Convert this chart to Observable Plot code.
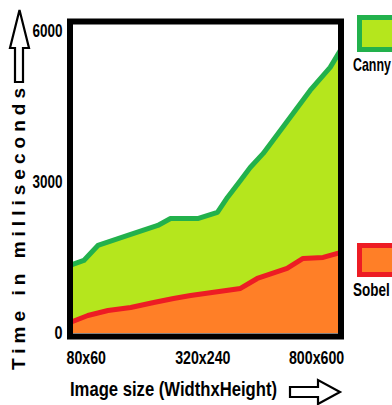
<!DOCTYPE html>
<html>
<head>
<meta charset="utf-8">
<script src="https://cdn.jsdelivr.net/npm/d3@7"></script>
<script src="https://cdn.jsdelivr.net/npm/@observablehq/plot@0.6"></script>
<style>
  html, body { margin: 0; padding: 0; background: #fff; }
  #chart svg { display: block; }
</style>
</head>
<body>
<div id="chart"></div>
<script>
// Series names and colours
const seriesNames = ["Canny", "Sobel"];
const lineColors = ["#22b14c", "#ed1c24"];
const fillColors = ["#b5e61d", "#ff7f27"];

// x position along the image-size axis (0..100)
const cannyX = [0, 5.1, 10.3, 21.3, 32.4, 37.1, 47.4, 54.4, 58.1, 62.9, 66.5, 71.3, 79, 88.6, 96, 100];
const cannyY = [1352, 1451, 1750, 1948, 2147, 2286, 2286, 2406, 2704, 3042, 3300, 3579, 4135, 4831, 5288, 5646];

const sobelX = [0, 6.6, 14, 22.4, 30.9, 38.2, 44.5, 62.9, 69.1, 80.1, 86, 93.4, 100];
const sobelY = [219, 358, 457, 517, 616, 696, 755, 895, 1093, 1292, 1491, 1511, 1610];

// axis ticks
const xTickPos = [6, 49, 91];
const xTickLabels = ["80x60", "320x240", "800x600"];
const yTicks = [0, 3000, 6000];

const yLabel = "Time in milliseconds";
const xLabel = "Image size (WidthxHeight)";

const canny = cannyX.map((x, i) => ({x, y: cannyY[i]}));
const sobel = sobelX.map((x, i) => ({x, y: sobelY[i]}));
const tickLabelMap = new Map(xTickPos.map((p, i) => [p, xTickLabels[i]]));

const font = "'Liberation Sans', Arial, sans-serif";

const chart = Plot.plot({
  width: 392,
  height: 405,
  marginLeft: 69.5,
  marginRight: 51.5,
  marginTop: 21,
  marginBottom: 69,
  style: {background: "#fff", color: "#000", overflow: "visible"},
  x: {domain: [0, 100], axis: null},
  y: {domain: [-60, 6200], axis: null},
  marks: [
    Plot.areaY(canny, {x: "x", y: "y", fill: fillColors[0]}),
    Plot.areaY(sobel, {x: "x", y: "y", fill: fillColors[1]}),
    Plot.line(canny, {x: "x", y: "y", stroke: lineColors[0], strokeWidth: 5}),
    Plot.line(sobel, {x: "x", y: "y", stroke: lineColors[1], strokeWidth: 5}),
    Plot.frame({stroke: "#000", strokeWidth: 6}),
    Plot.axisY({ticks: yTicks, tickSize: 0, tickPadding: 7.5, label: null,
      tickFormat: d => String(d),
      fontFamily: font, fontWeight: "bold", fontSize: 18, fill: "#000"}),
    Plot.axisX({ticks: xTickPos, tickSize: 0, tickPadding: 14, label: null,
      tickFormat: d => tickLabelMap.get(d),
      fontFamily: font, fontWeight: "bold", fontSize: 19, fill: "#000"})
  ]
});

document.getElementById("chart").appendChild(chart);

const svg = d3.select(chart);

// condense tick labels (the original uses a narrow bold face)
svg.selectAll("text").each(function() {
  const t = this.textContent;
  const w = {"6000": 30, "3000": 30, "0": 8}[t] ?? (t.includes("x") ? t.length * 7.9 : null);
  if (w) d3.select(this).attr("textLength", w).attr("lengthAdjust", "spacingAndGlyphs");
});

// y-axis label
svg.append("text")
  .attr("transform", "translate(25,229) rotate(-90)")
  .attr("text-anchor", "middle")
  .attr("font-family", font)
  .attr("font-weight", "bold")
  .attr("font-size", 19)
  .attr("textLength", 282)
  .attr("lengthAdjust", "spacing")
  .attr("fill", "#000")
  .text(yLabel);

// x-axis label
svg.append("text")
  .attr("x", 70)
  .attr("y", 396)
  .attr("text-anchor", "start")
  .attr("font-family", font)
  .attr("font-weight", "bold")
  .attr("font-size", 21)
  .attr("textLength", 207)
  .attr("lengthAdjust", "spacingAndGlyphs")
  .attr("fill", "#000")
  .text(xLabel);

// arrows
svg.append("path")
  .attr("d", "M15,82 L15,48 L10,48 L19.5,10 L29,48 L23,48 L23,82 Z")
  .attr("fill", "#fff").attr("stroke", "#000").attr("stroke-width", 2.2);
svg.append("path")
  .attr("d", "M290,387 L318,387 L318,380 L340,392 L318,404 L318,397 L290,397 Z")
  .attr("fill", "#fff").attr("stroke", "#000").attr("stroke-width", 2.2);

// legend
const legendBoxes = [{y: 17.5, h: 32, ty: 71, sx: 0.69}, {y: 245.5, h: 29, ty: 296, sx: 0.75}];
seriesNames.forEach((name, i) => {
  const b = legendBoxes[i];
  svg.append("rect")
    .attr("x", 359.5).attr("y", b.y).attr("width", 40).attr("height", b.h)
    .attr("fill", fillColors[i]).attr("stroke", lineColors[i]).attr("stroke-width", 5);
  svg.append("text")
    .attr("transform", `translate(353,${b.ty}) scale(${b.sx},1)`)
    .attr("text-anchor", "start")
    .attr("font-family", font).attr("font-weight", "bold").attr("font-size", 18)
    .attr("fill", "#000")
    .text(name);
});
</script>
</body>
</html>
